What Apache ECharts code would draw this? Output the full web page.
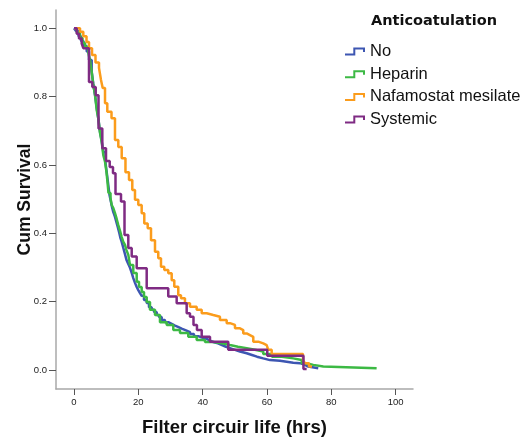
<!DOCTYPE html>
<html>
<head>
<meta charset="utf-8">
<script src="https://cdn.jsdelivr.net/npm/echarts@6/dist/echarts.min.js"></script>
<style>html,body{margin:0;padding:0;background:#fff;}#c{width:531px;height:439px;}</style>
</head>
<body>
<div id="c"></div>
<script>
var seriesNames = ['No', 'Heparin', 'Nafamostat mesilate', 'Systemic'];
var xTicks = [0, 20, 40, 60, 80, 100];
var yTicks = [0, 0.2, 0.4, 0.6, 0.8, 1.0];

// [time (hrs), cumulative survival]
var noData = [[0,1],[0.62,0.992],[1.40,0.977],[2.18,0.963],[2.95,0.948],[3.95,0.932],[4.66,0.907],[5.50,0.873],[6.00,0.837],[6.53,0.805],[7.06,0.767],[7.62,0.732],[8.08,0.697],[8.61,0.670],[9.11,0.638],[9.79,0.606],[10.16,0.579],[10.66,0.541],[11.04,0.512],[11.41,0.495],[11.81,0.477],[12.22,0.462],[12.74,0.448],[13.27,0.430],[13.68,0.416],[14.08,0.401],[14.45,0.386],[14.83,0.375],[15.33,0.357],[15.85,0.339],[16.32,0.322],[16.88,0.310],[17.41,0.299],[17.94,0.284],[18.43,0.269],[18.96,0.255],[19.49,0.243],[19.99,0.234],[20.52,0.225],[21.04,0.217],[21.76,0.205],[22.60,0.196],[23.31,0.184],[24.15,0.176],[24.87,0.170],[25.71,0.161],[26.42,0.155],[27.26,0.146],[28.29,0.140],[29.31,0.135],[30.37,0.130],[31.40,0.126],[32.33,0.121],[33.48,0.116],[34.82,0.111],[36.06,0.105],[37.30,0.099],[38.64,0.095],[39.79,0.091],[41.25,0.086],[42.28,0.082],[43.30,0.078],[44.76,0.073],[46.01,0.068],[47.25,0.064],[48.49,0.059],[50.05,0.054],[51.60,0.049],[53.68,0.044],[55.33,0.039],[56.89,0.034],[58.84,0.029],[60.93,0.027],[64.04,0.024],[66.12,0.021],[68.17,0.020],[70.25,0.015],[71.81,0.010],[72.83,0.005],[75.94,0.005]];

var heparinData = [[0,1],[0.93,0.986],[1.87,0.972],[2.64,0.957],[3.42,0.945],[4.45,0.928],[4.97,0.907],[5.50,0.872],[6.00,0.834],[6.53,0.805],[7.06,0.761],[7.62,0.732],[8.08,0.694],[8.61,0.667],[9.11,0.629],[9.64,0.610],[10.10,0.579],[10.41,0.550],[10.72,0.518],[11.35,0.503],[11.72,0.483],[12.22,0.474],[12.74,0.459],[13.27,0.442],[13.77,0.424],[14.30,0.407],[14.83,0.389],[15.33,0.375],[15.85,0.366],[16.32,0.351],[16.88,0.337],[17.41,0.307],[18.43,0.284],[19.49,0.258],[20.21,0.243],[21.04,0.228],[21.76,0.214],[22.60,0.199],[23.62,0.176],[25.18,0.161],[26.73,0.140],[28.82,0.132],[30.87,0.117],[32.95,0.108],[35.53,0.097],[38.14,0.088],[40.72,0.082],[43.30,0.078],[46.01,0.073],[48.49,0.068],[50.98,0.064],[53.68,0.059],[56.26,0.054],[58.84,0.047],[61.55,0.039],[64.66,0.034],[68.17,0.029],[70.78,0.020],[72.34,0.015],[74.39,0.010],[77.50,0.005],[94.09,0.005]];

var nafamostatData = [[0,1],[1.87,0.990],[2.89,0.977],[3.89,0.960],[4.66,0.942],[5.60,0.922],[6.68,0.900],[7.77,0.884],[8.39,0.849],[8.92,0.825],[9.64,0.781],[10.35,0.756],[11.66,0.737],[12.74,0.673],[13.77,0.653],[14.83,0.620],[16.00,0.579],[17.10,0.556],[18.12,0.527],[18.96,0.498],[19.99,0.483],[21.04,0.459],[21.85,0.429],[22.91,0.415],[23.94,0.380],[25.18,0.346],[26.20,0.327],[27.04,0.302],[28.07,0.293],[29.31,0.283],[30.37,0.263],[31.18,0.244],[32.42,0.219],[33.26,0.210],[34.50,0.195],[36.06,0.185],[38.14,0.176],[39.70,0.166],[41.25,0.161],[43.30,0.156],[45.38,0.146],[47.47,0.137],[48.49,0.132],[50.05,0.122],[51.60,0.117],[52.63,0.107],[53.68,0.102],[54.71,0.097],[55.74,0.083],[57.29,0.078],[58.84,0.073],[59.90,0.068],[60.40,0.059],[61.46,0.047],[71.20,0.029],[71.80,0.020],[73.05,0.010],[74.00,0.010]];

var systemicData = [[0,1],[0.84,0.984],[1.55,0.970],[2.39,0.955],[2.89,0.942],[4.66,0.843],[5.69,0.828],[6.75,0.804],[7.62,0.707],[8.80,0.649],[9.95,0.612],[11.10,0.594],[12.12,0.576],[12.90,0.515],[14.61,0.493],[15.70,0.395],[16.88,0.357],[17.94,0.332],[19.49,0.298],[22.60,0.239],[29.31,0.215],[31.92,0.195],[35.03,0.166],[36.06,0.156],[37.15,0.132],[38.23,0.117],[39.70,0.097],[42.28,0.083],[47.96,0.059],[60.09,0.042],[71.34,0.003],[72.33,0.003]];

var colors = ['#3d56b2', '#3cb944', '#fb9c1c', '#7f2b83'];
var allData = [noData, heparinData, nafamostatData, systemicData];

var stepIcon = 'path://M0,6 L8.3,6 L8.3,0 L20,0 L20,4.5 L18,4.5 L18,2 L10.3,2 L10.3,8 L0,8 Z';

var chart = echarts.init(document.getElementById('c'), null, {renderer: 'canvas'});
var series = seriesNames.map(function (n, i) {
  return {
    name: n,
    type: 'line',
    step: 'end',
    showSymbol: false,
    symbol: 'none',
    data: allData[i],
    lineStyle: {width: 2.5, color: colors[i]},
    itemStyle: {color: colors[i]},
    emphasis: {disabled: true}
  };
});

chart.setOption({
  animation: false,
  backgroundColor: '#fff',
  title: {
    text: 'Anticoatulation',
    left: 371,
    top: 14,
    padding: 0,
    textStyle: {fontFamily: 'DejaVu Sans', fontWeight: 'bold', fontSize: 14.5, color: '#111'}
  },
  legend: {
    orient: 'vertical',
    left: 345,
    top: 43,
    padding: 0,
    itemWidth: 20,
    itemHeight: 8,
    itemGap: 5.7,
    icon: stepIcon,
    data: seriesNames,
    textStyle: {fontFamily: 'Liberation Sans', fontSize: 16.5, color: '#111', lineHeight: 17}
  },
  grid: {left: 56, right: 118, top: 10, bottom: 50, containLabel: false, outerBoundsMode: 'none'},
  xAxis: {
    type: 'value',
    min: -5.6,
    max: 105.4,
    name: 'Filter circuir life (hrs)',
    nameLocation: 'middle',
    nameGap: 29,
    nameMoveOverlap: false,
    nameTextStyle: {fontFamily: 'Liberation Sans', fontWeight: 'bold', fontSize: 18.5, color: '#111'},
    axisLine: {show: true, onZero: false, lineStyle: {color: '#a8a8a8', width: 1.5}},
    axisTick: {show: true, customValues: xTicks, length: 6, lineStyle: {color: '#555', width: 1}},
    axisLabel: {customValues: xTicks, margin: 8, fontFamily: 'Liberation Sans', fontSize: 9.5, color: '#222'},
    splitLine: {show: false}
  },
  yAxis: {
    type: 'value',
    min: -0.0556,
    max: 1.0536,
    name: 'Cum Survival',
    nameLocation: 'middle',
    nameGap: 22,
    nameMoveOverlap: false,
    nameTextStyle: {fontFamily: 'Liberation Sans', fontWeight: 'bold', fontSize: 17.5, color: '#111'},
    axisLine: {show: true, onZero: false, lineStyle: {color: '#a8a8a8', width: 1.5}},
    axisTick: {show: true, customValues: yTicks, length: 7, lineStyle: {color: '#555', width: 1}},
    axisLabel: {customValues: yTicks, margin: 9, fontFamily: 'Liberation Sans', fontSize: 9.5, color: '#222',
      formatter: function (v) { return v.toFixed(1); }},
    splitLine: {show: false}
  },
  series: series
});
</script>
</body>
</html>
